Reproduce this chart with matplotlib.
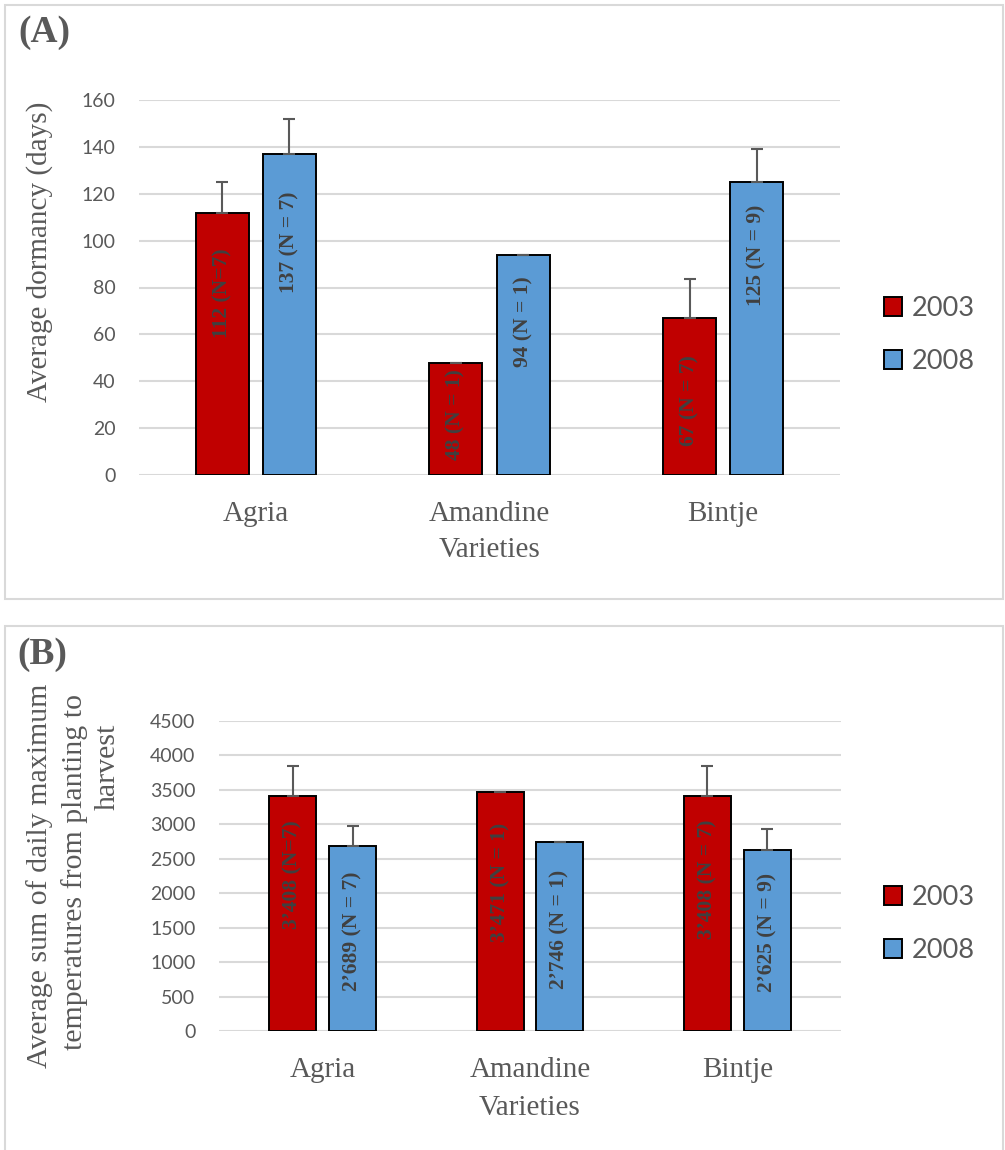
import matplotlib
matplotlib.use("Agg")
import matplotlib.pyplot as plt
from matplotlib.patches import Rectangle, Patch
import numpy as np

# ---- data ----
varieties = ["Agria", "Amandine", "Bintje"]
years = ["2003", "2008"]

dormancy_2003 = [112, 48, 67]
dormancy_2008 = [137, 94, 125]
dormancy_err_2003 = [13, 0, 16.5]
dormancy_err_2008 = [15, 0, 14]
dormancy_n_2003 = ["(N=7)", "(N = 1)", "(N = 7)"]
dormancy_n_2008 = ["(N = 7)", "(N = 1)", "(N = 9)"]

tempsum_2003 = [3408, 3471, 3408]
tempsum_2008 = [2689, 2746, 2625]
tempsum_err_2003 = [440, 0, 440]
tempsum_err_2008 = [290, 0, 310]
tempsum_n_2003 = ["(N=7)", "(N = 1)", "(N = 7)"]
tempsum_n_2008 = ["(N = 7)", "(N = 1)", "(N = 9)"]

# vertical centre of each in-bar label (data units)
dormancy_lbl_y_2003 = [77.7, 26, 31.6]
dormancy_lbl_y_2008 = [99.4, 65.3, 93.9]
tempsum_lbl_y_2003 = [2265, 2163, 2206]
tempsum_lbl_y_2008 = [1452, 1481, 1437]

# ---- styling ----
W, H = 1005, 1150
RED = "#C00000"
BLUE = "#5B9BD5"
GRID = "#D9D9D9"
TXT = "#595959"
LBL = "#404040"
SERIF = "Liberation Serif"
SANS = "Lato"

fig = plt.figure(figsize=(W / 100, H / 100), dpi=100)


def fx(x):
    return x / W


def fy(y):
    return 1 - y / H


def thousands(v):
    return f"{v:,}".replace(",", "\u2019")


# panel frames
fig.add_artist(Rectangle((fx(5), fy(599)), fx(998), 594 / H, transform=fig.transFigure,
                         fill=False, edgecolor=GRID, lw=1.5))
fig.add_artist(Rectangle((fx(5), fy(1170)), fx(998), 544 / H, transform=fig.transFigure,
                         fill=False, edgecolor=GRID, lw=1.5))


def draw_panel(ax, v03, v08, e03, e08, n03, n08, ly03, ly08, ymax, step, fmt):
    x = np.arange(len(varieties))
    off, bw = 0.144, 0.227
    ax.bar(x - off, v03, bw, color=RED, edgecolor="black", linewidth=1.4, zorder=3)
    ax.bar(x + off, v08, bw, color=BLUE, edgecolor="black", linewidth=1.4, zorder=3)
    for xs, v, e in ((x - off, v03, e03), (x + off, v08, e08)):
        ax.errorbar(xs, v, yerr=[np.zeros(len(v)), e], fmt="none", ecolor=TXT,
                    elinewidth=1.5, capsize=4.3, capthick=1.5, zorder=4)
    for xs, v, n, ly in ((x - off, v03, n03, ly03), (x + off, v08, n08, ly08)):
        for xi, vi, ni, yi in zip(xs, v, n, ly):
            ax.text(xi, yi, f"{fmt(vi)} {ni}", rotation=90, ha="center", va="center",
                    fontfamily=SERIF, fontweight="bold", fontsize=15.5, color=LBL, zorder=5)
    ax.set_xlim(-0.5, len(varieties) - 0.5)
    ax.set_ylim(0, ymax)
    ax.set_yticks(np.arange(0, ymax + step / 2, step))
    ax.yaxis.grid(True, color=GRID, lw=1.5)
    ax.set_axisbelow(True)
    for s in ax.spines.values():
        s.set_visible(False)
    ax.tick_params(axis="y", length=0, pad=17, labelsize=14, labelcolor=TXT)
    for t in ax.get_yticklabels():
        t.set_fontfamily(SANS)
    ax.set_xticks(x)
    ax.set_xticklabels(varieties, fontfamily=SERIF, fontsize=21, color=TXT)
    ax.tick_params(axis="x", length=0, pad=18.5)


# ---- panel A ----
axA = fig.add_axes([fx(139), fy(475), 701 / W, 375 / H])
draw_panel(axA, dormancy_2003, dormancy_2008, dormancy_err_2003, dormancy_err_2008,
           dormancy_n_2003, dormancy_n_2008, dormancy_lbl_y_2003, dormancy_lbl_y_2008,
           160, 20, lambda v: f"{v}")

# ---- panel B ----
axB = fig.add_axes([fx(219), fy(1031), 622 / W, 310 / H])
draw_panel(axB, tempsum_2003, tempsum_2008, tempsum_err_2003, tempsum_err_2008,
           tempsum_n_2003, tempsum_n_2008, tempsum_lbl_y_2003, tempsum_lbl_y_2008,
           4500, 500, thousands)

# titles and axis labels
fig.text(fx(18), fy(33), "(A)", fontfamily=SERIF, fontweight="bold", fontsize=27,
         color=TXT, ha="left", va="center")
fig.text(fx(17), fy(655), "(B)", fontfamily=SERIF, fontweight="bold", fontsize=27,
         color=TXT, ha="left", va="center")

fig.text(fx(40), fy(252), "Average dormancy (days)", rotation=90, fontfamily=SERIF,
         fontsize=21, color=TXT, ha="center", va="center")
fig.text(fx(490), fy(550), "Varieties", fontfamily=SERIF, fontsize=21, color=TXT,
         ha="center", va="center")

fig.text(fx(40), fy(876), "Average sum of daily maximum", rotation=90, fontfamily=SERIF,
         fontsize=21.5, color=TXT, ha="center", va="center")
fig.text(fx(75), fy(872), "temperatures from planting to", rotation=90, fontfamily=SERIF,
         fontsize=21.5, color=TXT, ha="center", va="center")
fig.text(fx(108), fy(767), "harvest", rotation=90, fontfamily=SERIF,
         fontsize=21.5, color=TXT, ha="center", va="center")
fig.text(fx(530), fy(1108), "Varieties", fontfamily=SERIF, fontsize=21, color=TXT,
         ha="center", va="center")

# legends
handles = [Patch(facecolor=RED, edgecolor="black", lw=1.4, label=years[0]),
           Patch(facecolor=BLUE, edgecolor="black", lw=1.4, label=years[1])]
for yc in (335, 924):
    fig.legend(handles=handles, loc="center left", bbox_to_anchor=(fx(884), fy(yc)),
               frameon=False, borderpad=0, borderaxespad=0, handlelength=0.68,
               handleheight=0.68, handletextpad=0.35, labelspacing=1.05,
               prop={"family": SANS, "size": 19.5}, labelcolor=TXT)

fig.savefig("out.png", dpi=100)
